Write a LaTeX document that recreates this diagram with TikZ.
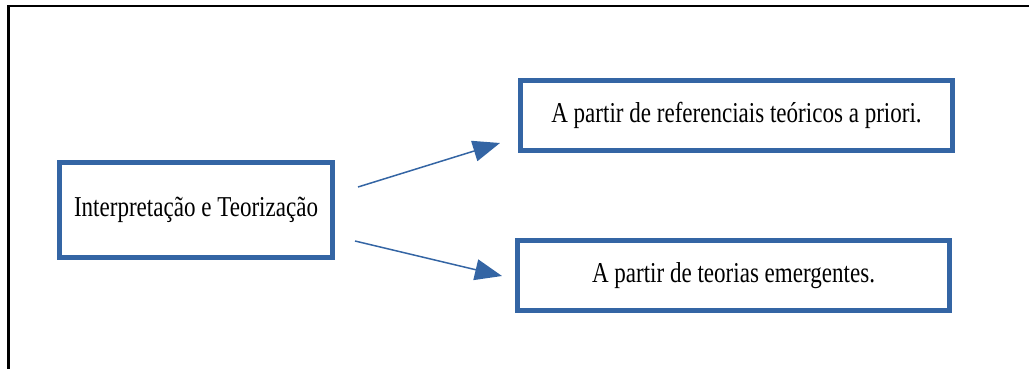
\documentclass[tikz,border=0pt]{standalone}
\usepackage{fontspec}
\setmainfont{Liberation Serif}[FakeStretch=0.8]
\usetikzlibrary{arrows.meta}
\definecolor{boxblue}{HTML}{3465A4}
\begin{document}
\begin{tikzpicture}[x=1pt,y=-1pt,
  box/.style={draw=boxblue,line width=5pt,fill=white,inner sep=0pt,font=\fontsize{28.8}{34}\selectfont},
  conn/.style={draw=boxblue,line width=1.5pt,-{Triangle[length=27pt,width=21pt]}}]
\useasboundingbox (0,0) rectangle (1029,369);
\draw[line width=2.5pt,black] (8.5,369) |- (1029,6);
\node[box,minimum width=273pt,minimum height=95pt] (src) at (196,210) {Interpretação e Teorização};
\node[box,minimum width=432pt,minimum height=70pt] (top) at (736.5,115.5) {A partir de referenciais teóricos a priori.};
\node[box,minimum width=432pt,minimum height=70pt] (bot) at (733.5,275.5) {A partir de teorias emergentes.};
\coordinate (a1) at (358,187);
\coordinate (a2) at (500,143);
\coordinate (b1) at (355,241);
\coordinate (b2) at (502,276);
\draw[conn] (a1) -- (a2);
\draw[conn] (b1) -- (b2);
\end{tikzpicture}
\end{document}
